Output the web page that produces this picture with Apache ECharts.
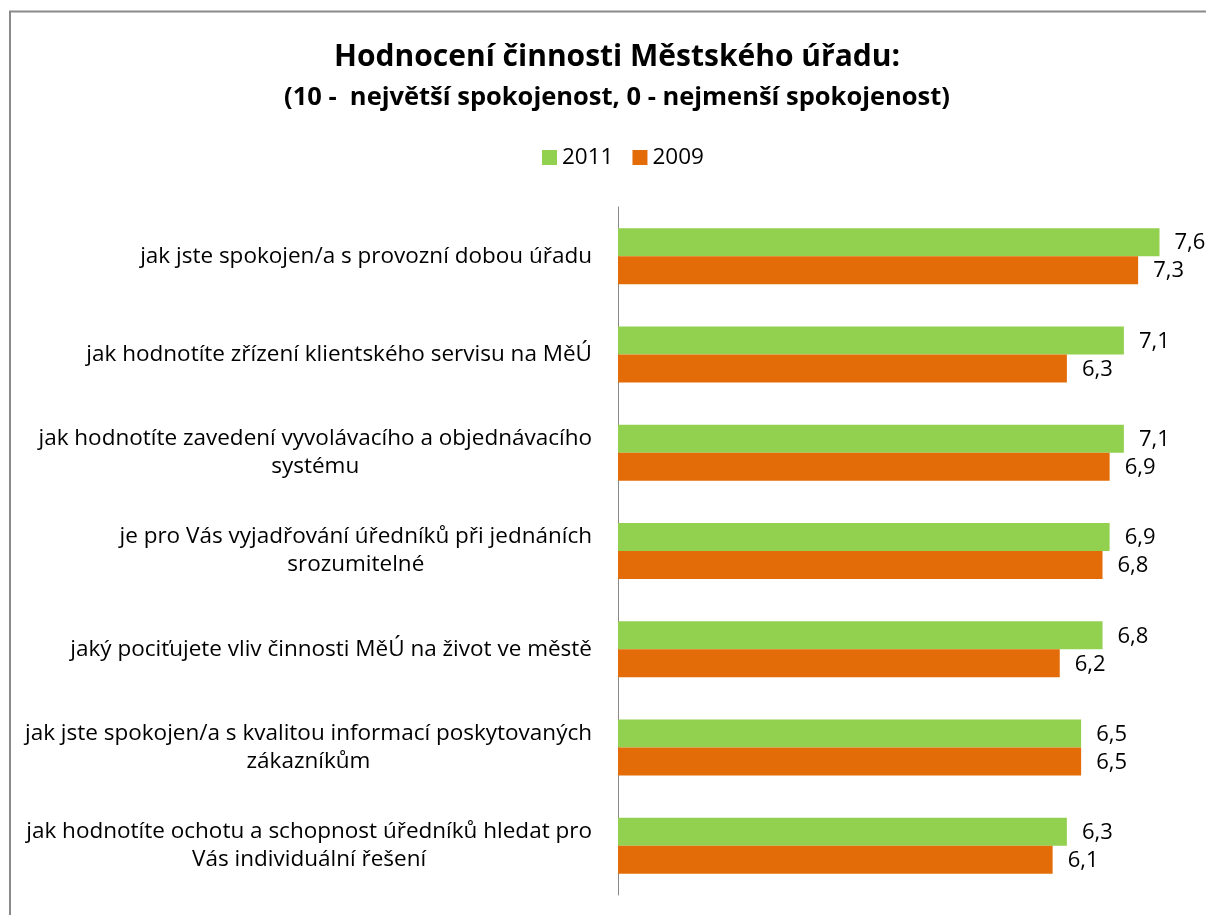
<!DOCTYPE html>
<html>
<head>
<meta charset="utf-8">
<script src="https://cdn.jsdelivr.net/npm/echarts@6/dist/echarts.min.js"></script>
<style>
html,body{margin:0;padding:0;background:#fff;}
#c{width:1206px;height:915px;}
</style>
</head>
<body>
<div id="c"></div>
<script>
const titleText = 'Hodnocení činnosti Městského úřadu:';
const subtitleText = '(10 -  největší spokojenost, 0 - nejmenší spokojenost)';
const categories = [
  'jak jste spokojen/a s provozní dobou úřadu',
  'jak hodnotíte zřízení klientského servisu na MěÚ',
  'jak hodnotíte zavedení vyvolávacího a objednávacího\nsystému',
  'je pro Vás vyjadřování úředníků při jednáních\nsrozumitelné',
  'jaký pociťujete vliv činnosti MěÚ na život ve městě',
  'jak jste spokojen/a s kvalitou informací poskytovaných\nzákazníkům',
  'jak hodnotíte ochotu a schopnost úředníků hledat pro\nVás individuální řešení'
];
const seriesNames = ['2011', '2009'];
const values2011 = [7.6, 7.1, 7.1, 6.9, 6.8, 6.5, 6.3];
const values2009 = [7.3, 6.3, 6.9, 6.8, 6.2, 6.5, 6.1];

const FONT = '"Open Sans", "DejaVu Sans", sans-serif';
const chart = echarts.init(document.getElementById('c'), null, {renderer: 'canvas'});
const labelFmt = p => String(p.value).replace('.', ',');

chart.setOption({
  backgroundColor: '#ffffff',
  animation: false,
  textStyle: {fontFamily: FONT},
  graphic: [{
    type: 'rect',
    shape: {x: 10, y: 11.5, width: 1400, height: 1200},
    style: {fill: 'none', stroke: '#8a8a8a', lineWidth: 2},
    silent: true, z: -1
  }],
  title: [
    {text: titleText, left: 612, top: 37, textAlign: 'center',
     textStyle: {fontFamily: FONT, fontSize: 30, fontWeight: 'bold', color: '#000'}},
    {text: subtitleText, left: 612, top: 80, textAlign: 'center',
     textStyle: {fontFamily: FONT, fontSize: 25.5, fontWeight: 'bold', color: '#000'}}
  ],
  legend: {
    data: seriesNames,
    left: 537,
    top: 141,
    itemWidth: 15,
    itemHeight: 15,
    itemGap: 19,
    icon: 'rect',
    textStyle: {fontFamily: FONT, fontSize: 22.5, color: '#000'}
  },
  grid: {left: 618, right: 18, top: 207, bottom: 20, containLabel: false},
  xAxis: {
    type: 'value', min: 0, max: 8, show: false
  },
  yAxis: {
    type: 'category',
    inverse: true,
    data: categories,
    axisLine: {show: true, lineStyle: {color: '#888', width: 1}},
    axisTick: {show: false},
    axisLabel: {
      margin: 26,
      align: 'right',
      formatter: v => v.split('\n').map(s => '{c|' + s + '}').join('\n'),
      rich: {
        c: {align: 'center', fontFamily: FONT, fontSize: 22.5, color: '#000', lineHeight: 28}
      }
    }
  },
  series: [
    {
      name: seriesNames[0], type: 'bar', data: values2011,
      barWidth: 28, barGap: '0%',
      itemStyle: {color: '#92D050'},
      label: {show: true, position: 'right', distance: 15, offset: [0, 1], formatter: labelFmt,
              fontFamily: FONT, fontSize: 22, color: '#000'}
    },
    {
      name: seriesNames[1], type: 'bar', data: values2009,
      barWidth: 28, barGap: '0%',
      itemStyle: {color: '#E36C09'},
      label: {show: true, position: 'right', distance: 15, offset: [0, 1], formatter: labelFmt,
              fontFamily: FONT, fontSize: 22, color: '#000'}
    }
  ]
});
</script>
</body>
</html>
